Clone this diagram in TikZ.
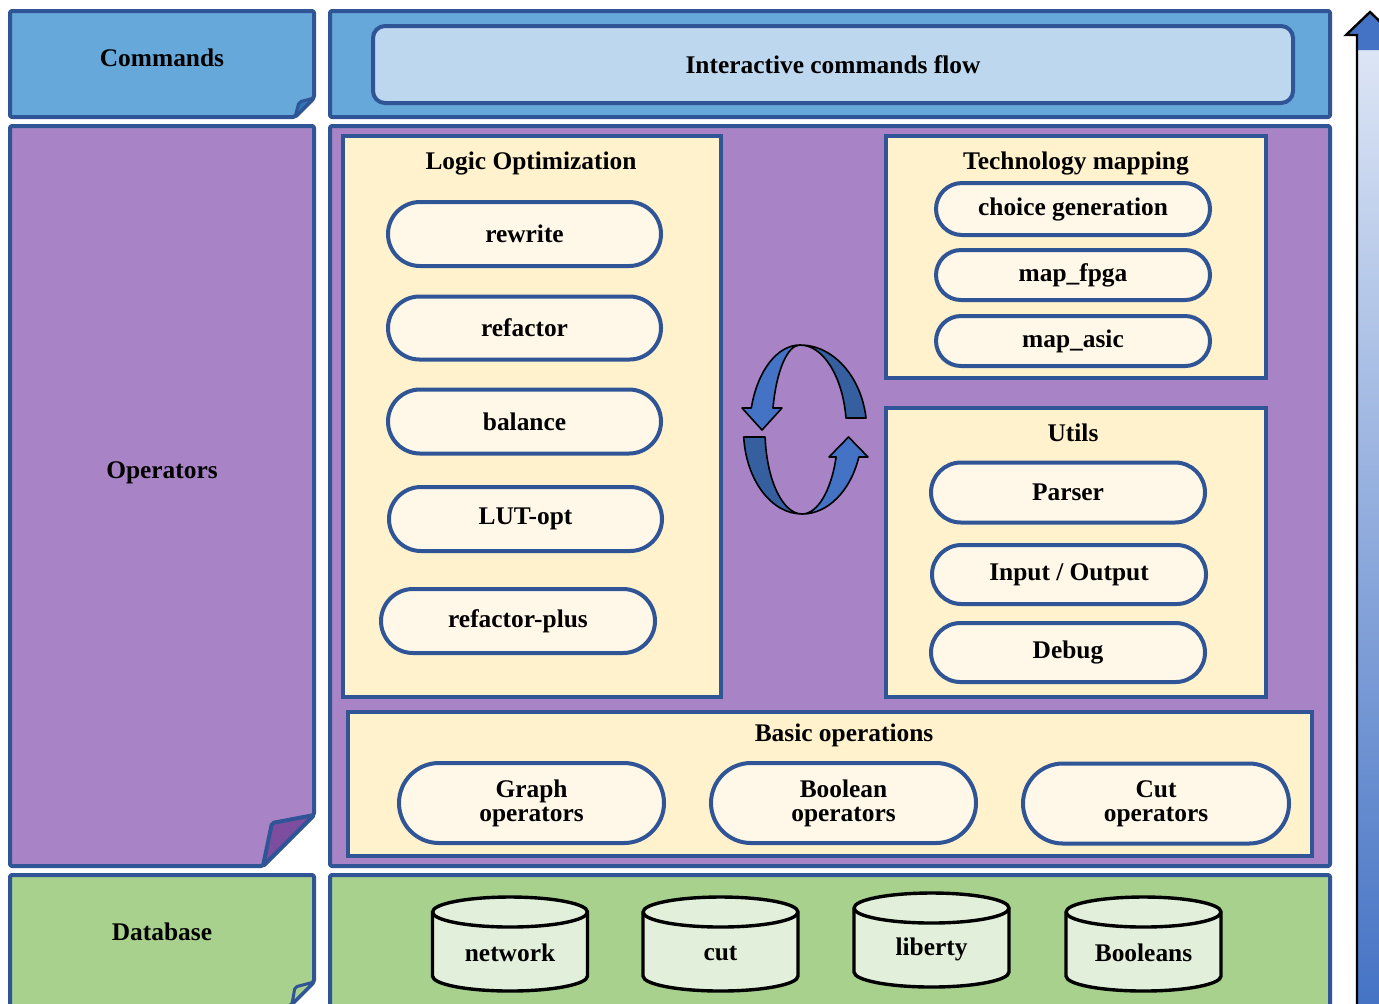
\documentclass[tikz,border=0pt]{standalone}
\usepackage{fontspec}
\setmainfont{Liberation Serif}
\usetikzlibrary{shapes.misc}

\definecolor{edge}{HTML}{2F5597}
\definecolor{cmdfill}{HTML}{66A8D9}
\definecolor{cmdinner}{HTML}{BDD7EE}
\definecolor{cmdfold}{HTML}{2E75B6}
\definecolor{opfill}{HTML}{A883C5}
\definecolor{opfold}{HTML}{7D4E9F}
\definecolor{dbfill}{HTML}{A9D18E}
\definecolor{dbfold}{HTML}{A9D18E}
\definecolor{groupfill}{HTML}{FFF2CC}
\definecolor{pillfill}{HTML}{FFF8E8}
\definecolor{cylfill}{HTML}{E2EFDA}
\definecolor{ringlight}{HTML}{4472C4}
\definecolor{ringdark}{HTML}{365F9F}
\definecolor{shaftlight}{HTML}{DCE5F5}

\tikzset{
  panel/.style={draw=edge, line width=2pt, line join=round, rounded corners=1pt},
  group/.style={draw=edge, line width=2pt, fill=groupfill},
  pill/.style={rounded rectangle, draw=edge, line width=2pt, fill=pillfill,
               align=center, inner sep=0pt},
  cyl/.style={draw=black, line width=1.7pt, fill=cylfill},
  ring/.style={draw=black, line width=0.8pt, line join=round},
  label/.style={inner sep=0pt}
}

% database drum: centre x, top y, node name, text
\newcommand\dbcyl[4]{%
  \filldraw[cyl] (#1-77.5,#2+15) -- (#1-77.5,#2+79)
    arc[start angle=180, end angle=0, x radius=77.5, y radius=15]
    -- (#1+77.5,#2+15)
    arc[start angle=0, end angle=-180, x radius=77.5, y radius=15] -- cycle;
  \draw[cyl, fill=none] (#1-77.5,#2+15)
    arc[start angle=180, end angle=0, x radius=77.5, y radius=15];
  \node[label] (#3) at (#1,#2+56) {#4};
}

\begin{document}
\begin{tikzpicture}[x=0.5pt, y=-0.5pt,
    every node/.style={font=\fontsize{12.7}{12}\selectfont\bfseries}]
\useasboundingbox (0,0) rectangle (1379,1003);
\clip (0,0) rectangle (1379,1003);

% ---- layer labels on the left (sheets with a turned-up corner)
\draw[panel, fill=cmdfill] (10,11) -- (314,11) -- (314,98) -- (295,117) -- (10,117) -- cycle;
\draw[panel, fill=cmdfold, line width=1.5pt] (314,98) -- (299,102) -- (295,117) -- cycle;
\node[label] (commands) at (162,58) {Commands};

\draw[panel, fill=opfill] (10,126) -- (314,126) -- (314,815) -- (263,866) -- (10,866) -- cycle;
\draw[panel, fill=opfold] (314,815) -- (272,823) -- (263,866) -- cycle;
\node[label] (operators) at (162,473) {Operators};

\draw[panel, fill=dbfill] (10,875) -- (314,875) -- (314,982) -- (289,1007) -- (10,1007) -- cycle;
\draw[panel, fill=dbfold, line width=1.5pt] (314,982) -- (295,987) -- (292,1004) -- cycle;
\node[label] (database) at (162,932) {Database};

% ---- layer contents
\draw[panel, fill=cmdfill] (330,11) rectangle (1330,117);
\node[draw=edge, line width=2pt, fill=cmdinner, rounded corners=6pt,
      minimum width=920*0.5pt, minimum height=77*0.5pt] (flow) at (833,64.5)
      {Interactive commands flow};

\draw[panel, fill=opfill] (330,126) rectangle (1330,866);
\draw[panel, fill=dbfill] (330,875) rectangle (1330,1012);

% Logic optimization
\draw[group] (343,136) rectangle (721,697);
\node[label] (lotitle) at (531,163.5) {Logic Optimization};
\node[pill, minimum width=273*0.5pt, minimum height=64*0.5pt] (rewrite)  at (524.5,234)   {rewrite};
\node[pill, minimum width=273*0.5pt, minimum height=63*0.5pt] (refactor) at (524.5,328) {refactor};
\node[pill, minimum width=273*0.5pt, minimum height=64*0.5pt] (balance)  at (524.5,421.5)   {balance};
\node[pill, minimum width=273*0.5pt, minimum height=64*0.5pt] (lutopt)   at (525.5,519)   {LUT-opt};
\node[pill, minimum width=274*0.5pt, minimum height=64*0.5pt] (refplus)  at (518,621)     {refactor-plus};

% Technology mapping
\draw[group] (886,136) rectangle (1266,378);
\node[label] (tmtitle) at (1076,163.5) {Technology mapping};
\node[pill, minimum width=274*0.5pt, minimum height=52*0.5pt] (choice) at (1073,209) {choice generation};
\node[pill, minimum width=274*0.5pt, minimum height=50*0.5pt] (fpga)   at (1073,275) {map\_fpga};
\node[pill, minimum width=274*0.5pt, minimum height=50*0.5pt] (asic)   at (1073,341) {map\_asic};

% Utils
\draw[group] (886,408) rectangle (1266,697);
\node[label] (utitle) at (1073,432.5) {Utils};
\node[pill, minimum width=274*0.5pt, minimum height=60*0.5pt] (parser) at (1068,492.5)   {Parser};
\node[pill, minimum width=274*0.5pt, minimum height=59*0.5pt] (io)     at (1069,574.5) {Input / Output};
\node[pill, minimum width=274*0.5pt, minimum height=59*0.5pt] (debug)  at (1068,652.5) {Debug};

% Basic operations
\draw[group] (348,712) rectangle (1312,856);
\node[label] (botitle) at (844,735.5) {Basic operations};
\node[pill, minimum width=265*0.5pt, minimum height=80*0.5pt] (graphop) at (531.5,803)  {Graph\\operators};
\node[pill, minimum width=265*0.5pt, minimum height=80*0.5pt] (boolop)  at (843.5,803)  {Boolean\\operators};
\node[pill, minimum width=266*0.5pt, minimum height=80*0.5pt] (cutop)   at (1156,803.5) {Cut\\operators};

% ---- circular arrows between the optimization and mapping groups
% upper arrow: far face on the right, near face with the head on the left
\filldraw[ring, fill=ringdark] (800,345)
  arc[start angle=270, end angle=351.3, x radius=66.8, y radius=86]
  -- (846,418)
  arc[start angle=351.3, end angle=270, x radius=46.5, y radius=86] -- cycle;
\filldraw[ring, fill=ringlight] (751.3,408)
  arc[start angle=195.5, end angle=270, x radius=50.5, y radius=86]
  arc[start angle=270, end angle=195.5, x radius=28, y radius=86]
  -- (782,408) -- (762,430) -- (742,408) -- cycle;
% lower arrow: far face on the left, near face with the head on the right
\filldraw[ring, fill=ringdark] (743.7,437)
  arc[start angle=175.2, end angle=90, x radius=58.5, y radius=84]
  arc[start angle=90, end angle=175.2, x radius=37, y radius=84] -- cycle;
\filldraw[ring, fill=ringlight] (802,514)
  arc[start angle=90, end angle=18.75, x radius=60, y radius=84]
  -- (868,457) -- (848.5,437) -- (829,457) -- (836.1,457)
  arc[start angle=18.75, end angle=90, x radius=36, y radius=84] -- cycle;

% ---- data stores
\dbcyl{510}{897}{network}{network}
\dbcyl{720.5}{897}{cutdb}{cut}
\dbcyl{931.5}{893}{liberty}{liberty}
\dbcyl{1143.5}{897}{booleans}{Booleans}

% ---- upward abstraction arrow at the right
\shade[top color=shaftlight, bottom color=ringlight] (1357,50) rectangle (1383,1012);
\fill[ringlight] (1370,12) -- (1394,35) -- (1383,35) -- (1383,50) -- (1357,50)
  -- (1357,35) -- (1346,35) -- cycle;
\draw[line width=1.2pt, line join=miter] (1357,1012) -- (1357,35) -- (1346,35)
  -- (1370,12) -- (1394,35) -- (1383,35) -- (1383,1012);
\end{tikzpicture}
\end{document}
